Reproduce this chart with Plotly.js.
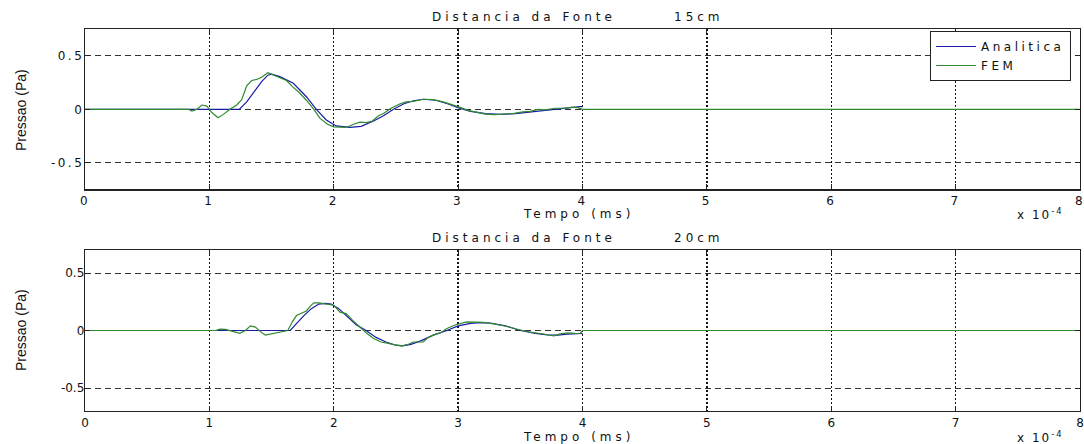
<!DOCTYPE html>
<html>
<head>
<meta charset="utf-8">
<script src="https://cdn.plot.ly/plotly-3.0.1.min.js"></script>
<style>
  html, body { margin: 0; padding: 0; background: #fff; }
  #chart { width: 1084px; height: 444px; }
  .xtick text, .ytick text { letter-spacing: 2.5px; }
  .legendtext { letter-spacing: 3.5px; }
  g.annotation text { letter-spacing: 4px; }
  g.annotation[data-index="6"] text, g.annotation[data-index="7"] text { letter-spacing: 2px; }
  g.annotation[data-index="8"] text, g.annotation[data-index="9"] text { letter-spacing: 0px; }
</style>
</head>
<body>
<div id="chart"></div>
<script>
// Time in units of 1e-4 (axis shows "x 10^-4")
const tAnaTop = [0, 1.24, 1.30, 1.36, 1.42, 1.47, 1.50, 1.567, 1.675, 1.78, 1.86, 1.94, 2.02, 2.13, 2.22, 2.32, 2.40, 2.48, 2.56, 2.64, 2.72, 2.82, 2.92, 3.01, 3.10, 3.22, 3.34, 3.46, 3.58, 3.70, 3.82, 3.92, 3.98, 4.0];
const pAnaTop = [0, 0, 0.07, 0.17, 0.26, 0.32, 0.33, 0.306, 0.244, 0.118, 0.0, -0.10, -0.156, -0.169, -0.16, -0.11, -0.06, 0.0, 0.05, 0.08, 0.094, 0.085, 0.05, 0.01, -0.02, -0.04, -0.047, -0.04, -0.025, -0.01, 0.01, 0.02, 0.025, 0.025];

const tFemTop = [0, 0.78, 0.80, 0.83, 0.86, 0.90, 0.94, 0.98, 1.02, 1.07, 1.11, 1.165, 1.22, 1.26, 1.30, 1.34, 1.38, 1.42, 1.47, 1.52, 1.57, 1.62, 1.67, 1.72, 1.78, 1.84, 1.89, 1.95, 2.0, 2.05, 2.1, 2.16, 2.21, 2.26, 2.31, 2.36, 2.4, 2.46, 2.53, 2.58, 2.64, 2.72, 2.8, 2.88, 2.95, 3.01, 3.08, 3.16, 3.22, 3.29, 3.36, 3.44, 3.52, 3.58, 3.64, 3.70, 3.78, 3.86, 3.92, 3.96, 4.0, 8.0];
const pFemTop = [0, 0, 0.005, 0, -0.016, 0.0, 0.04, 0.03, -0.03, -0.08, -0.05, 0.0, 0.04, 0.09, 0.22, 0.27, 0.28, 0.30, 0.343, 0.32, 0.29, 0.27, 0.21, 0.16, 0.085, 0.0, -0.085, -0.14, -0.165, -0.17, -0.17, -0.14, -0.12, -0.125, -0.11, -0.06, -0.04, 0.01, 0.05, 0.07, 0.075, 0.094, 0.09, 0.07, 0.045, 0.02, -0.01, -0.03, -0.045, -0.05, -0.045, -0.04, -0.025, -0.02, 0.0, -0.005, 0.01, 0.01, 0.02, 0.015, 0.0, 0.0];

const tAnaBot = [0, 1.65, 1.70, 1.76, 1.82, 1.88, 1.93, 1.98, 2.04, 2.10, 2.18, 2.26, 2.34, 2.42, 2.50, 2.55, 2.62, 2.70, 2.80, 2.91, 3.00, 3.10, 3.18, 3.26, 3.38, 3.50, 3.62, 3.72, 3.80, 3.88, 3.98, 4.0];
const pAnaBot = [0, 0, 0.06, 0.13, 0.19, 0.23, 0.235, 0.23, 0.19, 0.13, 0.05, 0.0, -0.06, -0.10, -0.128, -0.133, -0.12, -0.09, -0.04, 0.0, 0.04, 0.062, 0.069, 0.065, 0.04, 0.0, -0.025, -0.038, -0.04, -0.032, -0.026, -0.025];

const tFemBot = [0, 1.05, 1.085, 1.13, 1.18, 1.245, 1.29, 1.33, 1.37, 1.41, 1.45, 1.50, 1.57, 1.63, 1.67, 1.70, 1.74, 1.78, 1.81, 1.84, 1.88, 1.92, 2.0, 2.05, 2.1, 2.15, 2.21, 2.26, 2.32, 2.38, 2.43, 2.49, 2.55, 2.60, 2.64, 2.68, 2.72, 2.76, 2.8, 2.86, 2.91, 2.98, 3.07, 3.14, 3.2, 3.27, 3.34, 3.4, 3.46, 3.52, 3.58, 3.66, 3.72, 3.77, 3.82, 3.88, 3.94, 3.98, 4.0, 8.0];
const pFemBot = [0, 0, 0.012, 0.01, -0.005, -0.025, 0.0, 0.04, 0.03, -0.01, -0.04, -0.03, -0.01, 0.0, 0.08, 0.13, 0.15, 0.17, 0.21, 0.24, 0.24, 0.234, 0.22, 0.16, 0.147, 0.09, 0.03, -0.02, -0.07, -0.1, -0.11, -0.125, -0.133, -0.12, -0.1, -0.1, -0.1, -0.06, -0.04, -0.02, 0.017, 0.05, 0.075, 0.072, 0.07, 0.06, 0.05, 0.035, 0.015, 0.0, -0.015, -0.026, -0.04, -0.046, -0.03, -0.02, -0.025, -0.026, 0.0, 0.0];

const xTicks = [0, 1, 2, 3, 4, 5, 6, 7, 8];
const xTickText = ['0', '1', '2', '3', '4', '5', '6', '7', '8'];
const yTicks = [-0.5, 0, 0.5];
const yTickText = ['-0.5', '0', '0.5'];
const seriesNames = ['Analitica', 'FEM'];
const titles = ['Distancia da Fonte', 'Distancia da Fonte'];
const distances = ['15cm', '20cm'];

const blue = '#1a1aa8';
const green = '#2f8a2f';
const FONT = 'DejaVu Sans, Liberation Sans, Arial, sans-serif';

const traces = [
  {x: tAnaTop, y: pAnaTop, type: 'scatter', mode: 'lines', name: seriesNames[0], line: {color: blue, width: 1.2}, xaxis: 'x', yaxis: 'y'},
  {x: tFemTop, y: pFemTop, type: 'scatter', mode: 'lines', name: seriesNames[1], line: {color: green, width: 1.2}, xaxis: 'x', yaxis: 'y'},
  {x: tAnaBot, y: pAnaBot, type: 'scatter', mode: 'lines', name: seriesNames[0], showlegend: false, line: {color: blue, width: 1.2}, xaxis: 'x2', yaxis: 'y2'},
  {x: tFemBot, y: pFemBot, type: 'scatter', mode: 'lines', name: seriesNames[1], showlegend: false, line: {color: green, width: 1.2}, xaxis: 'x2', yaxis: 'y2'}
];

function xAxis(anchor) {
  return {
    anchor: anchor, range: [0, 8], tickvals: xTicks, ticktext: xTickText,
    showgrid: true, gridcolor: '#111', griddash: '2px,2px', gridwidth: 1.4,
    zeroline: false, showline: true, linecolor: '#222', linewidth: 1.3, mirror: 'ticks',
    ticks: 'inside', ticklen: 5, tickcolor: '#222', ticklabeloverflow: 'allow',
    tickfont: {family: FONT, size: 12, color: '#111'}, fixedrange: true
  };
}
function yAxis(anchor, dom, r) {
  return {
    anchor: anchor, domain: dom, range: r, tickvals: yTicks, ticktext: yTickText,
    showgrid: true, gridcolor: '#333', griddash: '6px,4px', gridwidth: 1,
    zeroline: false, showline: true, linecolor: '#222', linewidth: 1.3, mirror: 'ticks',
    ticks: 'inside', ticklen: 5, tickcolor: '#222', ticklabelstandoff: -3,
    tickfont: {family: FONT, size: 12, color: '#111'}, fixedrange: true
  };
}

const H = 444, L = 85, R = 4, PW = 1084 - L - R;
function px(x) { return (x - L) / PW; }
function py(y) { return 1 - y / H; }

const annFont = {family: FONT, size: 12, color: '#111'};
const ylabFont = {family: 'Liberation Sans Narrow, Liberation Sans, Arial, sans-serif', size: 14, color: '#111'};
function ann(text, x, y, extra) {
  return Object.assign({text: text, x: px(x), y: py(y), xref: 'paper', yref: 'paper',
    xanchor: 'center', yanchor: 'middle', showarrow: false, font: annFont}, extra || {});
}
const annotations = [
  ann(titles[0], 524, 17),
  ann(distances[0], 699, 17),
  ann(titles[1], 524, 238),
  ann(distances[1], 699, 238),
  ann('Tempo (ms)', 578, 214),
  ann('Tempo (ms)', 578, 437),
  ann('x 10<sup>-4</sup>', 1040, 214),
  ann('x 10<sup>-4</sup>', 1040, 437),
  ann('Pressao (Pa)', 21, 110, {textangle: -90, font: ylabFont}),
  ann('Pressao (Pa)', 21, 330, {textangle: -90, font: ylabFont})
];

const layout = {
  width: 1084, height: 444,
  margin: {l: L, r: R, t: 0, b: 0},
  paper_bgcolor: '#fff', plot_bgcolor: '#fff',
  showlegend: true,
  legend: {
    x: px(1071), xanchor: 'right', y: py(31), yanchor: 'top',
    bgcolor: '#fff', bordercolor: '#222', borderwidth: 1,
    font: {family: FONT, size: 12, color: '#111'},
    tracegroupgap: 0, itemwidth: 40
  },
  xaxis: xAxis('y'),
  yaxis: yAxis('x', [1 - 189.3 / H, 1 - 29.3 / H], [-0.75, 0.75]),
  xaxis2: xAxis('y2'),
  yaxis2: yAxis('x2', [1 - 411 / H, 1 - 250 / H], [-0.7, 0.7]),
  annotations: annotations
};

Plotly.newPlot('chart', traces, layout, {displayModeBar: false, staticPlot: true});
</script>
</body>
</html>
